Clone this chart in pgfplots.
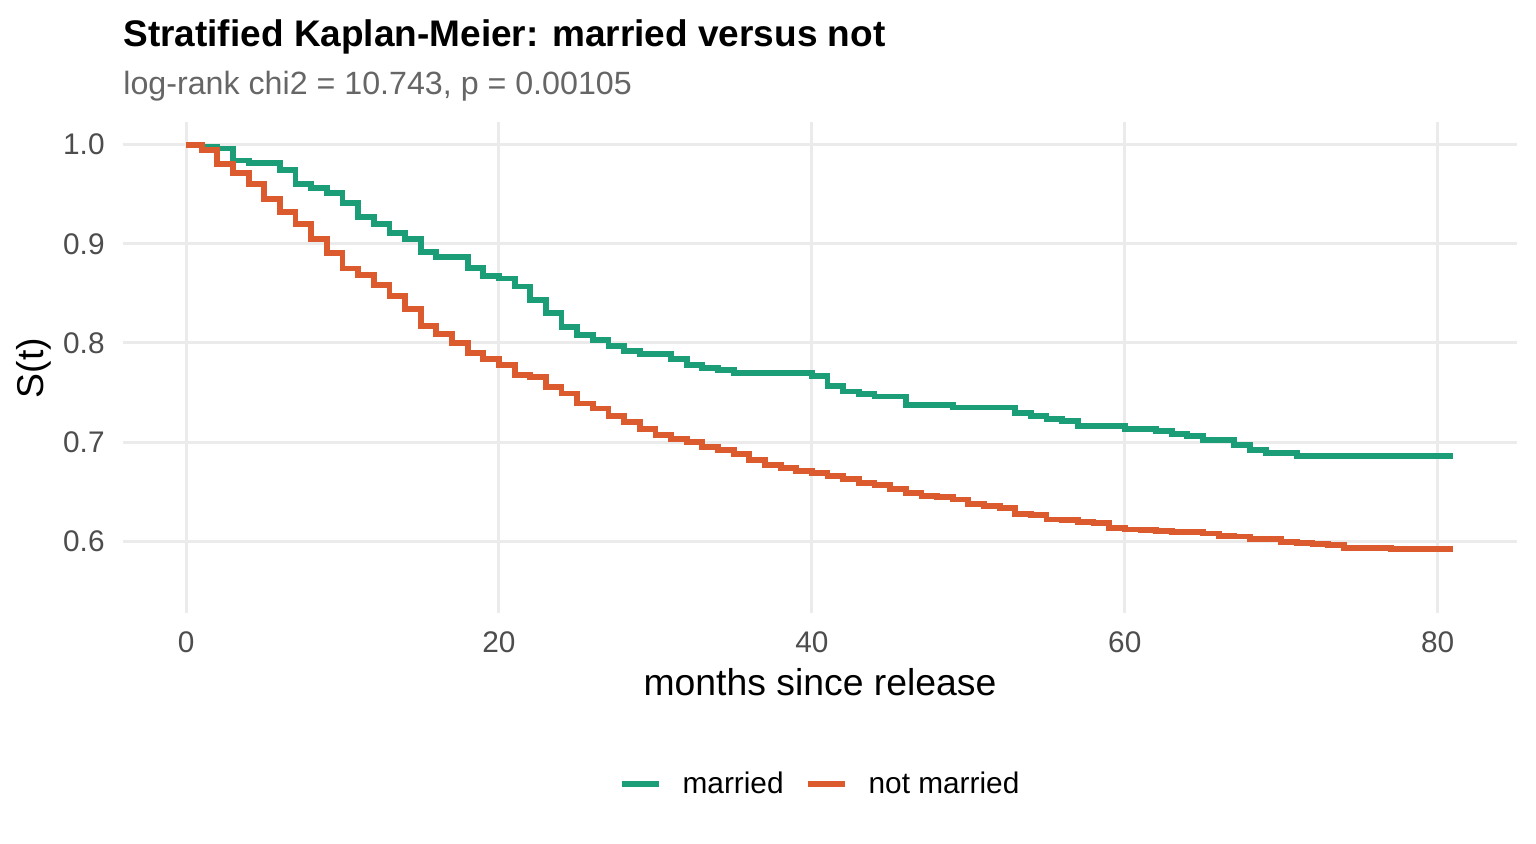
\documentclass[border=0pt]{standalone}
\usepackage{pgfplots}
\pgfplotsset{compat=1.18}
\usepackage{fontspec}
\setmainfont{Liberation Sans}
\definecolor{kmgreen}{HTML}{1B9E77}
\definecolor{kmorange}{RGB}{219,91,46}
\definecolor{gridgray}{HTML}{EBEBEB}
\definecolor{tickgray}{HTML}{4D4D4D}
\definecolor{subgray}{HTML}{666666}
\begin{document}
\begin{tikzpicture}
\useasboundingbox (0,0) rectangle (768pt,422pt);
\begin{axis}[
  at={(61.35pt,115.35pt)}, anchor=south west,
  scale only axis, width=697pt, height=245.5pt,
  xmin=-4.05, xmax=85.05, ymin=0.5275, ymax=1.0225,
  axis line style={draw=none},
  major tick length=0pt,
  grid=major,
  major grid style={color=gridgray, line width=1.5pt},
  xtick={0,20,40,60,80},
  ytick={0.6,0.7,0.8,0.9,1.0},
  /pgf/number format/assume math mode=true,
  yticklabel={\pgfmathprintnumber[fixed,fixed zerofill,precision=1]{\tick}},
  tick label style={font=\fontsize{14.9}{16}\selectfont, text=tickgray},
  yticklabel style={anchor=east, inner sep=0pt, xshift=-8.85pt},
  xticklabel style={anchor=base, inner sep=0pt, yshift=-19.7pt},
  legend columns=2,
  legend style={draw=none, fill=none, at={(0.4995,-0.3477)}, anchor=center,
    font=\fontsize{14.9}{16}\selectfont,
    nodes={inner sep=0pt},
    /tikz/every odd column/.style={column sep=10.6pt},
    /tikz/every even column/.style={column sep=10.5pt}},
  legend image code/.code={\draw[#1] (0pt,0pt) -- (18.5pt,0pt);},
]
\addplot[const plot, color=kmgreen, line width=2.9pt] coordinates {
(0,1.000) (1,0.998) (2,0.996) (3,0.984) (4,0.9816) (6,0.974) (7,0.960)
(8,0.9565) (9,0.9514) (10,0.941) (11,0.927) (12,0.9196) (13,0.911)
(14,0.905) (15,0.892) (16,0.887) (18,0.876) (19,0.8676) (20,0.865)
(21,0.857) (22,0.843) (23,0.830) (24,0.816) (25,0.808) (26,0.803)
(27,0.797) (28,0.792) (29,0.789) (31,0.7836) (32,0.778) (33,0.775)
(34,0.773) (35,0.770) (40,0.767) (41,0.757) (42,0.751) (43,0.7487)
(44,0.746) (46,0.7377) (49,0.735) (53,0.7293) (54,0.7266) (55,0.7233)
(56,0.721) (57,0.716) (60,0.7133) (62,0.711) (63,0.7085) (64,0.706)
(65,0.7025) (67,0.6968) (68,0.6918) (69,0.689) (71,0.6857) (81,0.6857)
};
\addlegendentry{married}
\addplot[const plot, color=kmorange, line width=2.9pt] coordinates {
(0,1.000) (1,0.9946) (2,0.9806) (3,0.9712) (4,0.9605) (5,0.9454) (6,0.932)
(7,0.9196) (8,0.905) (9,0.8908) (10,0.875) (11,0.8683) (12,0.8583)
(13,0.8472) (14,0.834) (15,0.817) (16,0.809) (17,0.8003) (18,0.790)
(19,0.7836) (20,0.778) (21,0.768) (22,0.7655) (23,0.756) (24,0.749)
(25,0.739) (26,0.734) (27,0.7266) (28,0.720) (29,0.7136) (30,0.7075)
(31,0.7032) (32,0.6998) (33,0.695) (34,0.6918) (35,0.6884) (36,0.6824)
(37,0.677) (38,0.674) (39,0.6707) (40,0.669) (41,0.6663) (42,0.663)
(43,0.659) (44,0.6566) (45,0.653) (46,0.649) (47,0.6455) (48,0.645)
(49,0.6422) (50,0.6379) (51,0.6355) (52,0.6338) (53,0.628) (54,0.6265)
(55,0.622) (56,0.6214) (57,0.6194) (58,0.6188) (59,0.6137) (60,0.612)
(61,0.6114) (62,0.6104) (63,0.6094) (65,0.608) (66,0.6054) (67,0.605)
(68,0.6027) (69,0.602) (70,0.5993) (71,0.598) (72,0.5977) (73,0.596)
(74,0.5937) (77,0.592) (81,0.592)
};
\addlegendentry{not married}
\end{axis}
\node[anchor=base west, inner sep=0pt, font=\fontsize{18.5}{20}\selectfont\bfseries] at (61.5pt,398.65pt) {Stratified Kaplan-Meier: married versus not};
\node[anchor=base west, inner sep=0pt, font=\fontsize{16.1}{18}\selectfont, text=subgray] at (61.5pt,374.5pt) {log-rank chi2 = 10.743, p = 0.00105};
\node[anchor=base, inner sep=0pt, font=\fontsize{18.67}{20}\selectfont] at (410pt,74pt) {months since release};
\node[anchor=base, inner sep=0pt, rotate=90, font=\fontsize{18.67}{20}\selectfont] at (21.7pt,238pt) {S(t)};
\end{tikzpicture}
\end{document}
